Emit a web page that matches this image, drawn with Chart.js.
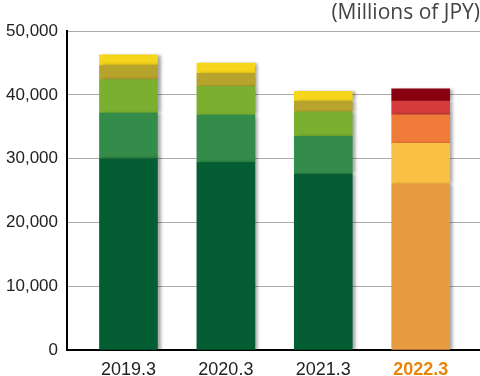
<!DOCTYPE html>
<html>
<head>
<meta charset="utf-8">
<script src="https://cdn.jsdelivr.net/npm/chart.js@4.4.1/dist/chart.umd.min.js"></script>
<style>
  body { margin: 0; background: #fff; }
  #wrap { width: 480px; height: 376px; }
</style>
</head>
<body>
<div id="wrap"><canvas id="Sales_Chart"></canvas></div>
<script>
// fiscal years
var years = ["2019.3", "2020.3", "2021.3", "2022.3"];

// stacked segments, bottom to top (Millions of JPY)
var segment1 = [30000, 29400, 27600, 26050];
var segment2 = [7150, 7450, 5900, 6350];
var segment3 = [5280, 4450, 3850, 4500];
var segment4 = [2190, 2100, 1700, 2150];
var segment5 = [1670, 1600, 1500, 1900];

var yTicks = [0, 10000, 20000, 30000, 40000, 50000];

// green set for the old years, orange set for the latest one
var greens = ['#055e33', '#338c4a', '#7aaf30', '#b6a42c', '#f5d61c'];
var oranges = ['#e89a40', '#f8c044', '#f07b38', '#d63c3c', '#8a0010'];

function makeSet(values, n) {
    return {
        label: 'segment' + (n + 1),
        data: values.map(function (v, i) { return { x: i, y: v }; }),
        backgroundColor: years.map(function (y, i) { return i === years.length - 1 ? oranges[n] : greens[n]; }),
        borderWidth: 0,
        barThickness: 58
    };
}

// soft shadow to the right of the bars
var barShadow = {
    id: 'barShadow',
    beforeDatasetsDraw: function (chart) {
        var ctx = chart.ctx;
        ctx.save();
        ctx.shadowColor = 'rgba(0, 0, 0, 0.35)';
        ctx.shadowOffsetX = 3;
        ctx.shadowOffsetY = 0;
        ctx.shadowBlur = 3;
    },
    afterDatasetsDraw: function (chart) {
        chart.ctx.restore();
    }
};

new Chart(document.getElementById("Sales_Chart").getContext("2d"), {
    type: 'bar',
    data: {
        datasets: [segment1, segment2, segment3, segment4, segment5].map(makeSet)
    },
    plugins: [barShadow],
    options: {
        responsive: true,
        maintainAspectRatio: false,
        animation: false,
        layout: { padding: { left: 0, right: 0, top: 0, bottom: 0 } },
        plugins: {
            legend: { display: false },
            tooltip: { enabled: false },
            title: {
                display: true,
                text: '(Millions of JPY)',
                align: 'end',
                color: '#444',
                font: { family: 'Open Sans', size: 21, weight: 'normal', lineHeight: 1.2 },
                padding: { top: 0, bottom: 6 }
            }
        },
        scales: {
            x: {
                type: 'linear',
                stacked: true,
                offset: false,
                min: -0.631,
                max: 3.609,
                grid: { display: false, offset: false },
                border: { display: true, color: '#000', width: 2 },
                afterBuildTicks: function (scale) {
                    scale.ticks = years.map(function (y, i) { return { value: i }; });
                },
                afterFit: function (scale) { scale.height = 26; },
                ticks: {
                    autoSkip: false,
                    maxRotation: 0,
                    padding: 1,
                    callback: function (v) { return years[v]; },
                    color: function (c) { return c.index === years.length - 1 ? '#e8850c' : '#222'; },
                    font: function (c) {
                        return { family: 'Liberation Sans', size: 18, weight: c.index === years.length - 1 ? 'bold' : 'normal' };
                    }
                }
            },
            y: {
                stacked: true,
                min: 0,
                max: 50000,
                afterBuildTicks: function (scale) {
                    scale.ticks = yTicks.map(function (v) { return { value: v }; });
                },
                afterFit: function (scale) { scale.width = 67; },
                grid: { color: '#aaa', lineWidth: 1, drawTicks: false },
                border: { display: true, color: '#000', width: 2 },
                ticks: {
                    padding: 9,
                    color: '#222',
                    font: { family: 'Liberation Sans', size: 17 },
                    callback: function (v) { return v.toLocaleString('en-US'); }
                }
            }
        }
    }
});
</script>
</body>
</html>
